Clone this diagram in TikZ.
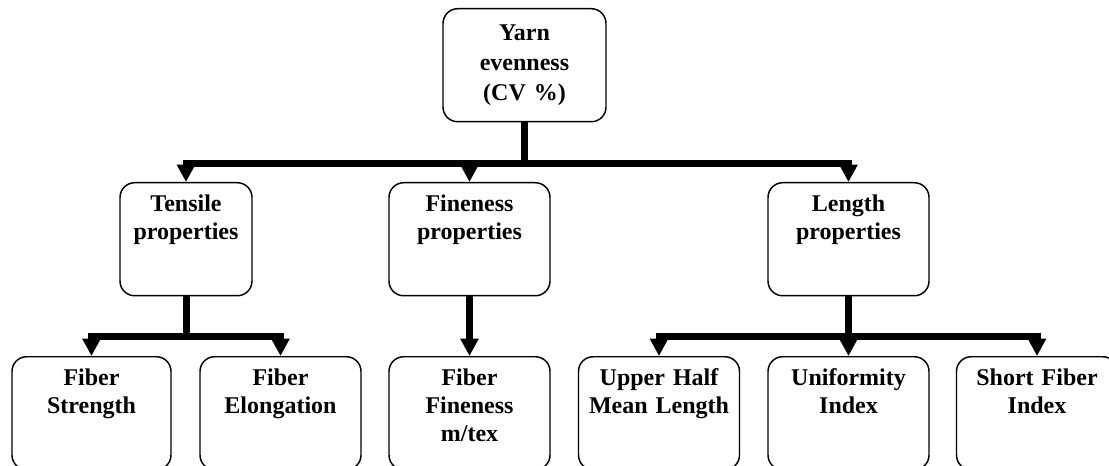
\documentclass[tikz,border=0pt]{standalone}
\usepackage{fontspec}
\setmainfont{Liberation Serif}
\usetikzlibrary{arrows.meta}
\tikzset{
  prop/.style={draw,line width=1.1pt,rounded corners=11pt,inner sep=0pt,
               anchor=north,align=center,
               font=\bfseries\fontsize{18}{21}\selectfont,
               text width=120.75pt,text height=21.75pt,text depth=63pt},
  trunk/.style={line width=5.25pt},
  feed/.style={trunk,-{Triangle[width=13pt,length=13pt]}}
}

\begin{document}
\begin{tikzpicture}[x=0.75pt,y=-0.75pt]
\useasboundingbox (0,0) rectangle (1109,466);
% root
\node[prop,text width=122.25pt,text height=24pt,text depth=60.75pt,
      font=\bfseries\fontsize{18}{22.5}\selectfont] (yarn) at (524.5,8)
      {Yarn\\evenness\\(CV \%)};
% property groups
\node[prop,text width=99pt] (ten) at (186,182) {Tensile\\properties};
\node[prop] (fin) at (469.5,182) {Fineness\\properties};
\node[prop] (len) at (848.5,182) {Length\\properties};
% fibre parameters
\node[prop,text width=119.25pt] (str) at (91.5,356) {Fiber\\Strength};
\node[prop] (elo) at (280.5,356) {Fiber\\Elongation};
\node[prop] (ffin) at (469.5,356) {Fiber\\Fineness\\m/tex};
\node[prop] (uhml) at (659,356) {Upper Half\\Mean Length};
\node[prop] (ui) at (848.5,356) {Uniformity\\Index};
\node[prop] (sfi) at (1037,356) {Short Fiber\\Index};

% first level
\path (yarn.south) ++(0,41) coordinate (j1);
\draw[trunk] (yarn.south) -- (j1);
\draw[feed] (j1) -| (ten.north);
\draw[feed] (j1) -| (len.north);
\draw[feed] (j1 -| fin.north) -- (fin.north);

% second level
\path (ten.south) ++(0,40) coordinate (j2);
\draw[trunk] (ten.south) -- (j2);
\draw[feed] (j2) -| (str.north);
\draw[feed] (j2) -| (elo.north);

\draw[feed] (fin.south) -- (ffin.north);

\path (len.south) ++(0,40) coordinate (j3);
\draw[trunk] (len.south) -- (j3);
\draw[feed] (j3) -| (uhml.north);
\draw[feed] (j3) -| (sfi.north);
\draw[feed] (j3) -- (ui.north);
\end{tikzpicture}
\end{document}
